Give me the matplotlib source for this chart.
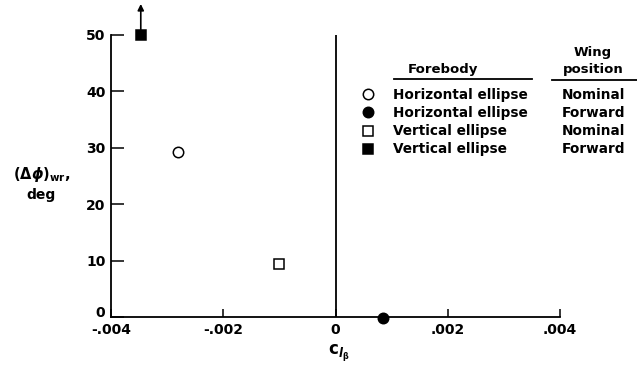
import matplotlib.pyplot as plt
import matplotlib.transforms as mtransforms
from matplotlib.lines import Line2D

plt.rcParams['font.family'] = 'DejaVu Sans'
plt.rcParams['font.weight'] = 'bold'
plt.rcParams['mathtext.fontset'] = 'dejavusans'

# data
forebody = ['Horizontal ellipse', 'Horizontal ellipse', 'Vertical ellipse', 'Vertical ellipse']
wing_pos = ['Nominal', 'Forward', 'Nominal', 'Forward']
clb = [-0.0028, 0.00084, -0.0010, -0.00347]
dphi = [29.2, -0.2, 9.4, 50.0]
markers = ['o', 'o', 's', 's']
fills = ['white', 'black', 'white', 'black']
sizes = [7.5, 7.5, 7, 7]
arrow_top = 55.5   # point is off scale (arrow up)

xticks = [-0.004, -0.002, 0, 0.002, 0.004]
xticklabels = ['-.004', '-.002', '0', '.002', '.004']
yticks = [0, 10, 20, 30, 40, 50]

fig = plt.figure(figsize=(6.37, 3.75), dpi=100)
ax = fig.add_axes([0.1743, 0.1547, 0.7049, 0.752])

for x, y, m, fc, s in zip(clb, dphi, markers, fills, sizes):
    ax.plot(x, y, marker=m, ms=s, mfc=fc, mec='black', mew=1.1,
            ls='none', clip_on=False, zorder=5)

ax.annotate('', xy=(clb[3], arrow_top), xytext=(clb[3], dphi[3]),
            annotation_clip=False,
            arrowprops=dict(arrowstyle='-|>', color='black', lw=1.2,
                            mutation_scale=9, shrinkA=0, shrinkB=0))

ax.axvline(0, color='black', lw=1.3)

ax.set_xlim(-0.004, 0.004)
ax.set_ylim(0, 50)
ax.set_xticks(xticks)
ax.set_xticklabels(xticklabels)
ax.set_yticks(yticks)
ax.spines['top'].set_visible(False)
ax.spines['right'].set_visible(False)
for sp in ['left', 'bottom']:
    ax.spines[sp].set_linewidth(1.3)
ax.tick_params(axis='y', direction='in', length=9, width=1.1, pad=4, labelsize=10)
ax.tick_params(axis='x', direction='in', length=6, width=1.1, pad=4, labelsize=10)

# lift the "0" on the y axis a little, as in the original
ylab0 = ax.get_yticklabels()[0]
ylab0.set_transform(ylab0.get_transform() +
                    mtransforms.ScaledTranslation(0, 4 / 72, fig.dpi_scale_trans))

fig.text(0.066, 0.536, r'$(\Delta\phi)_{\mathbf{wr}}$,', ha='center', va='center', fontsize=10.5)
fig.text(0.064, 0.48, 'deg', ha='center', va='center', fontsize=10)
fig.text(0.532, 0.058, r'$\mathrm{c}_{l_{\mathbf{\beta}}}$', ha='center', va='center', fontsize=12)

# legend headers
fig.text(0.695, 0.816, 'Forebody', ha='center', va='center', fontsize=9.5)
fig.text(0.931, 0.859, 'Wing', ha='center', va='center', fontsize=9.5)
fig.text(0.931, 0.816, 'position', ha='center', va='center', fontsize=9.5)
fig.add_artist(Line2D([0.619, 0.835], [0.789, 0.789], color='black', lw=1.3))
fig.add_artist(Line2D([0.867, 1.0], [0.787, 0.787], color='black', lw=1.3))

handles = [Line2D([], [], marker=m, ms=s, mfc=fc, mec='black', mew=1.1, ls='none')
           for m, fc, s in zip(markers, fills, sizes)]
fig.legend(handles, forebody, loc='upper left', bbox_to_anchor=(0.565, 0.765),
           frameon=False, fontsize=9.8, handlelength=1.2, handletextpad=1.2,
           labelspacing=0.3, borderpad=0, borderaxespad=0)
blank = [Line2D([], [], ls='none') for _ in wing_pos]
fig.legend(blank, wing_pos, loc='upper left', bbox_to_anchor=(0.882, 0.765),
           frameon=False, fontsize=9.8, handlelength=0, handletextpad=0,
           labelspacing=0.3, borderpad=0, borderaxespad=0)

fig.savefig('out.png', dpi=100)
